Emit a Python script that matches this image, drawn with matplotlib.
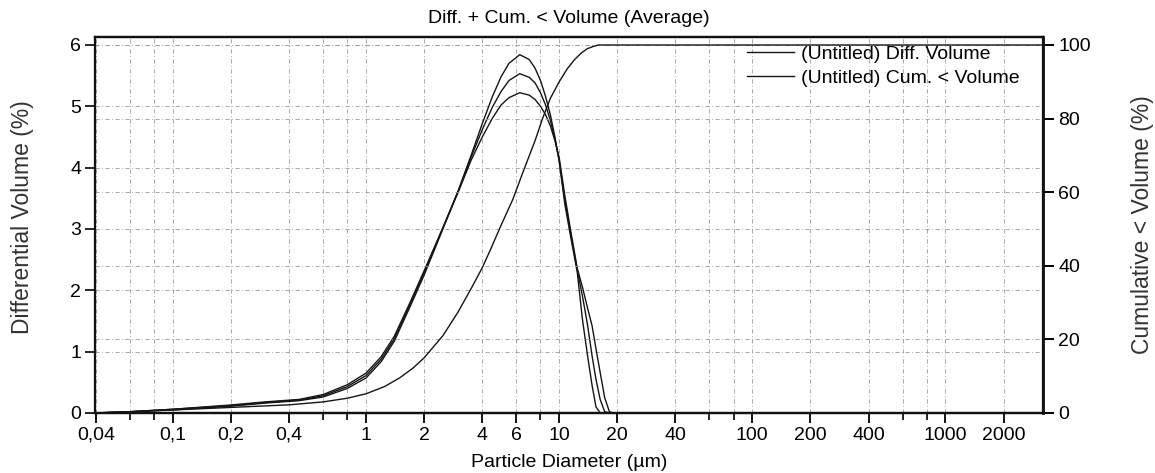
import matplotlib
matplotlib.use("Agg")
import matplotlib.pyplot as plt
from matplotlib.ticker import FixedLocator, FixedFormatter, NullFormatter

plt.rcParams['font.family'] = ['Liberation Sans', 'DejaVu Sans']

# ---- data ----
diameter_um = [0.04, 0.06, 0.1, 0.2, 0.3, 0.45, 0.6, 0.8, 1.0, 1.2, 1.4, 1.7, 2.0,
               2.5, 3.0, 3.5, 4.0, 4.5, 5.0, 5.5, 6.25, 7.0, 7.5, 8.0, 8.5, 9.0,
               9.5, 10.0, 10.7, 11.5, 12.4, 13.2, 14.0, 14.8, 15.5, 16.3, 17.2,
               18.2, 19.0]
diff_run1 = [0, 0.02, 0.05, 0.11, 0.16, 0.20, 0.26, 0.40, 0.57, 0.84, 1.17, 1.75, 2.25,
             3.00, 3.62, 4.20, 4.72, 5.15, 5.48, 5.70, 5.84, 5.76, 5.62, 5.42, 5.16, 4.86,
             4.50, 4.10, 3.40, 2.85, 2.30, 1.52, 0.95, 0.45, 0.10, 0.0, 0, 0, 0]
diff_run2 = [0, 0.02, 0.06, 0.12, 0.17, 0.21, 0.28, 0.43, 0.61, 0.88, 1.21, 1.79, 2.29,
             3.02, 3.62, 4.17, 4.62, 4.98, 5.24, 5.42, 5.53, 5.47, 5.38, 5.22, 5.02, 4.77,
             4.47, 4.12, 3.46, 2.90, 2.33, 1.90, 1.45, 0.93, 0.55, 0.22, 0.02, 0, 0]
diff_run3 = [0, 0.02, 0.06, 0.13, 0.18, 0.22, 0.30, 0.46, 0.65, 0.92, 1.25, 1.82, 2.32,
             3.02, 3.60, 4.12, 4.50, 4.80, 5.02, 5.14, 5.22, 5.18, 5.11, 5.00, 4.86, 4.68,
             4.44, 4.16, 3.54, 2.95, 2.36, 2.05, 1.72, 1.42, 1.05, 0.66, 0.25, 0.02, 0]

cum_diameter_um = [0.04, 0.06, 0.1, 0.2, 0.4, 0.6, 0.8, 1.0, 1.25, 1.5, 1.75, 2.0, 2.5,
                   3.0, 3.5, 4.0, 4.4, 5.0, 5.75, 6.5, 7.5, 8.2, 9.0, 10.0, 11.0,
                   12.0, 13.0, 14.0, 15.0, 16.0, 18.0, 3200]
cum_volume = [0, 0.3, 0.8, 1.5, 2.2, 3.0, 4.0, 5.2, 7.2, 9.6, 12.2, 15.0, 21.0,
              27.5, 33.8, 39.5, 44.3, 51.0, 58.0, 65.5, 74.0, 80.0, 85.5, 90.0, 93.5,
              96.0, 97.8, 99.0, 99.6, 100, 100, 100]

major_ticks = [0.04, 0.1, 0.2, 0.4, 1, 2, 4, 6, 10, 20, 40, 100, 200, 400, 1000, 2000]
major_labels = ["0,04", "0,1", "0,2", "0,4", "1", "2", "4", "6", "10", "20", "40",
                "100", "200", "400", "1000", "2000"]
minor_ticks = [0.06, 0.08, 0.6, 0.8, 8, 60, 80, 600, 800]

title = "Diff. + Cum. < Volume (Average)"
xlabel = "Particle Diameter (µm)"
ylabel_left = "Differential Volume (%)"
ylabel_right = "Cumulative < Volume (%)"
legend_labels = ["(Untitled) Diff. Volume", "(Untitled) Cum. < Volume"]

# ---- figure ----
fig = plt.figure(figsize=(11.55, 4.73), dpi=100)
ax = fig.add_axes([0.0823, 0.127, 0.8207, 0.795])
ax2 = ax.twinx()

FS = 14
FSY = 16.5
line_kw = dict(color='#151515', lw=1.0)

l1, = ax.plot(diameter_um, diff_run1, **line_kw)
ax.plot(diameter_um, diff_run2, **line_kw)
ax.plot(diameter_um, diff_run3, **line_kw)
l2, = ax2.plot(cum_diameter_um, cum_volume, **line_kw)

ax.set_xscale('log')
ax.set_xlim(0.0395, 3200)
ax.set_ylim(0, 6.13)
ax2.set_ylim(0, 102.2)

ax.xaxis.set_major_locator(FixedLocator(major_ticks))
ax.xaxis.set_major_formatter(FixedFormatter(major_labels))
ax.xaxis.set_minor_locator(FixedLocator(minor_ticks))
ax.xaxis.set_minor_formatter(NullFormatter())

ax.set_yticks(range(0, 7))
ax2.set_yticks(range(0, 101, 20))

grid_kw = dict(color='#9a9a9a', lw=0.6, linestyle=(0, (5, 3, 1, 3)))
ax.grid(True, which='both', axis='x', **grid_kw)
ax.grid(True, which='major', axis='y', **grid_kw)
ax2.grid(True, which='major', axis='y', **grid_kw)
ax.set_axisbelow(True)
ax2.set_axisbelow(True)

ax.tick_params(axis='x', which='major', direction='out', length=7, width=1.3,
               labelsize=FS, pad=3)
ax.tick_params(axis='x', which='minor', direction='out', length=5, width=1.2)
ax.tick_params(axis='y', direction='out', length=7, width=1.2, labelsize=FS, pad=3)
ax2.tick_params(axis='y', direction='out', length=8, width=1.4, labelsize=FS, pad=3)

for a in (ax, ax2):
    for s in a.spines.values():
        s.set_linewidth(1.6)
        s.set_color('#111111')
ax2.spines['right'].set_linewidth(2.0)
ax.spines['left'].set_linewidth(1.2)

ax.set_title(title, fontsize=FS, pad=10)
ax.set_xlabel(xlabel, fontsize=FS)
ax.xaxis.set_label_coords(0.5, -0.108)
ax.set_ylabel(ylabel_left, fontsize=FSY, color='#333333')
ax.yaxis.set_label_coords(-0.064, 0.52)
ax2.set_ylabel(ylabel_right, fontsize=FSY, color='#333333')
ax2.yaxis.set_label_coords(1.093, 0.50)

leg = ax.legend([l1, l2], legend_labels, loc='upper left',
                bbox_to_anchor=(0.686, 0.982), frameon=False, fontsize=FS,
                handlelength=2.4, handletextpad=0.35, borderpad=0.1,
                labelspacing=0.3, borderaxespad=0)

fig.savefig("out.png", dpi=100)
